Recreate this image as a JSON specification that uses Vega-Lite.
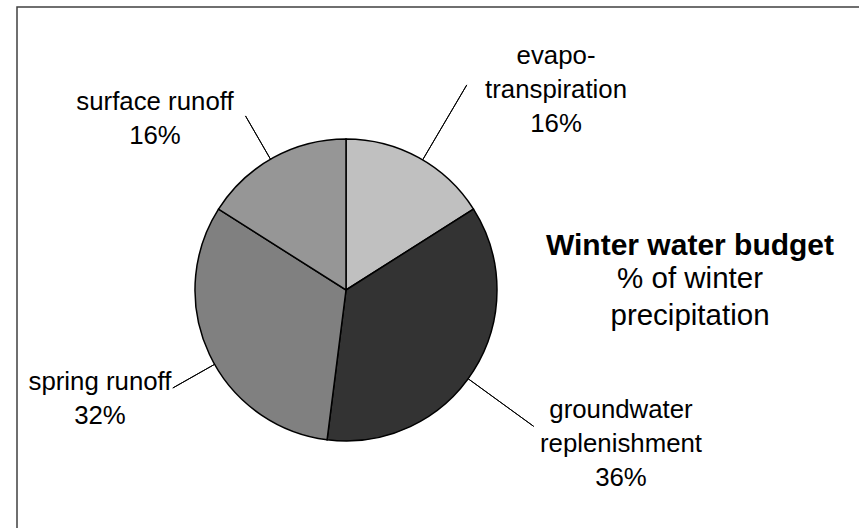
{
  "$schema": "https://vega.github.io/schema/vega-lite/v6.json",
  "width": 846,
  "height": 525,
  "autosize": {"type": "none"},
  "padding": {"left": 17, "top": 7, "right": -4, "bottom": -4},
  "background": "white",
  "view": {"stroke": "#404040", "strokeWidth": 1.5},
  "config": {
    "view": {"stroke": "#404040", "strokeWidth": 1.5},
    "font": "Liberation Sans"
  },
  "title": {
    "text": "Winter water budget",
    "subtitle": ["% of winter", "precipitation"],
    "anchor": "middle",
    "font": "Liberation Sans",
    "subtitleFont": "Liberation Sans",
    "fontSize": 30,
    "fontWeight": "bold",
    "subtitleFontSize": 29.5,
    "subtitleLineHeight": 37,
    "subtitlePadding": 4,
    "color": "black",
    "subtitleColor": "black",
    "dx": 250,
    "dy": 327
  },
  "data": {
    "values": [
      {"category": "evapotranspiration", "idx": 1, "pct": 16, "label": ["evapo-", "transpiration", "16%"]},
      {"category": "groundwater replenishment", "idx": 2, "pct": 36, "label": ["groundwater", "replenishment", "36%"]},
      {"category": "spring runoff", "idx": 3, "pct": 32, "label": ["spring runoff", "32%"]},
      {"category": "surface runoff", "idx": 4, "pct": 16, "label": ["surface runoff", "16%"]}
    ]
  },
  "layer": [
    {
      "mark": {"type": "arc", "radius": 151, "stroke": "black", "strokeWidth": 1.5, "x": 329, "y": 283},
      "encoding": {
        "theta": {"field": "pct", "type": "quantitative", "stack": true},
        "order": {"field": "idx", "type": "quantitative"},
        "color": {
          "field": "category",
          "type": "nominal",
          "scale": {
            "domain": ["evapotranspiration", "groundwater replenishment", "spring runoff", "surface runoff"],
            "range": ["#c0c0c0", "#333333", "#808080", "#969696"]
          },
          "legend": null
        }
      }
    },
    {
      "transform": [
        {"stack": "pct", "groupby": [], "sort": [{"field": "idx", "order": "ascending"}], "as": ["start", "end"]},
        {"filter": "datum.category === 'evapotranspiration'"}
      ],
      "mark": {"type": "arc", "radius": 238, "radius2": 151, "thetaOffset": 0.532325, "theta2Offset": 0.532325, "filled": false, "stroke": "black", "strokeWidth": 1, "x": 329, "y": 283},
      "encoding": {
        "theta": {"field": "start", "type": "quantitative", "stack": null},
        "theta2": {"field": "start"}
      }
    },
    {
      "transform": [
        {"stack": "pct", "groupby": [], "sort": [{"field": "idx", "order": "ascending"}], "as": ["start", "end"]},
        {"filter": "datum.category === 'groundwater replenishment'"}
      ],
      "mark": {"type": "arc", "radius": 232, "radius2": 151, "thetaOffset": 1.193805, "theta2Offset": 1.193805, "filled": false, "stroke": "black", "strokeWidth": 1, "x": 329, "y": 283},
      "encoding": {
        "theta": {"field": "start", "type": "quantitative", "stack": null},
        "theta2": {"field": "start"}
      }
    },
    {
      "transform": [
        {"stack": "pct", "groupby": [], "sort": [{"field": "idx", "order": "ascending"}], "as": ["start", "end"]},
        {"filter": "datum.category === 'spring runoff'"}
      ],
      "mark": {"type": "arc", "radius": 199, "radius2": 151, "thetaOffset": 0.930261, "theta2Offset": 0.930261, "filled": false, "stroke": "black", "strokeWidth": 1, "x": 329, "y": 283},
      "encoding": {
        "theta": {"field": "start", "type": "quantitative", "stack": null},
        "theta2": {"field": "start"}
      }
    },
    {
      "transform": [
        {"stack": "pct", "groupby": [], "sort": [{"field": "idx", "order": "ascending"}], "as": ["start", "end"]},
        {"filter": "datum.category === 'surface runoff'"}
      ],
      "mark": {"type": "arc", "radius": 201, "radius2": 151, "thetaOffset": 0.481711, "theta2Offset": 0.481711, "filled": false, "stroke": "black", "strokeWidth": 1, "x": 329, "y": 283},
      "encoding": {
        "theta": {"field": "start", "type": "quantitative", "stack": null},
        "theta2": {"field": "start"}
      }
    },
    {
      "mark": {"type": "text", "radius": 250, "x": 329, "y": 283, "dx": 89.6, "dy": -6.9, "fontSize": 25.8, "lineHeight": 34, "align": "center", "baseline": "alphabetic", "color": "black"},
      "encoding": {
        "theta": {"field": "pct", "type": "quantitative", "stack": true},
        "order": {"field": "idx", "type": "quantitative"},
        "text": {"field": "label", "type": "nominal"},
        "opacity": {"condition": {"test": "datum.category === 'evapotranspiration'", "value": 1}, "value": 0}
      }
    },
    {
      "mark": {"type": "text", "radius": 250, "x": 329, "y": 283, "dx": 63.9, "dy": -6, "fontSize": 25.8, "lineHeight": 34, "align": "center", "baseline": "alphabetic", "color": "black"},
      "encoding": {
        "theta": {"field": "pct", "type": "quantitative", "stack": true},
        "order": {"field": "idx", "type": "quantitative"},
        "text": {"field": "label", "type": "nominal"},
        "opacity": {"condition": {"test": "datum.category === 'groundwater replenishment'", "value": 1}, "value": 0}
      }
    },
    {
      "mark": {"type": "text", "radius": 250, "x": 329, "y": 283, "dx": -19.8, "dy": -6.4, "fontSize": 25.8, "lineHeight": 34, "align": "center", "baseline": "alphabetic", "color": "black"},
      "encoding": {
        "theta": {"field": "pct", "type": "quantitative", "stack": true},
        "order": {"field": "idx", "type": "quantitative"},
        "text": {"field": "label", "type": "nominal"},
        "opacity": {"condition": {"test": "datum.category === 'spring runoff'", "value": 1}, "value": 0}
      }
    },
    {
      "mark": {"type": "text", "radius": 250, "x": 329, "y": 283, "dx": -70.6, "dy": 39.1, "fontSize": 25.8, "lineHeight": 34, "align": "center", "baseline": "alphabetic", "color": "black"},
      "encoding": {
        "theta": {"field": "pct", "type": "quantitative", "stack": true},
        "order": {"field": "idx", "type": "quantitative"},
        "text": {"field": "label", "type": "nominal"},
        "opacity": {"condition": {"test": "datum.category === 'surface runoff'", "value": 1}, "value": 0}
      }
    }
  ]
}
